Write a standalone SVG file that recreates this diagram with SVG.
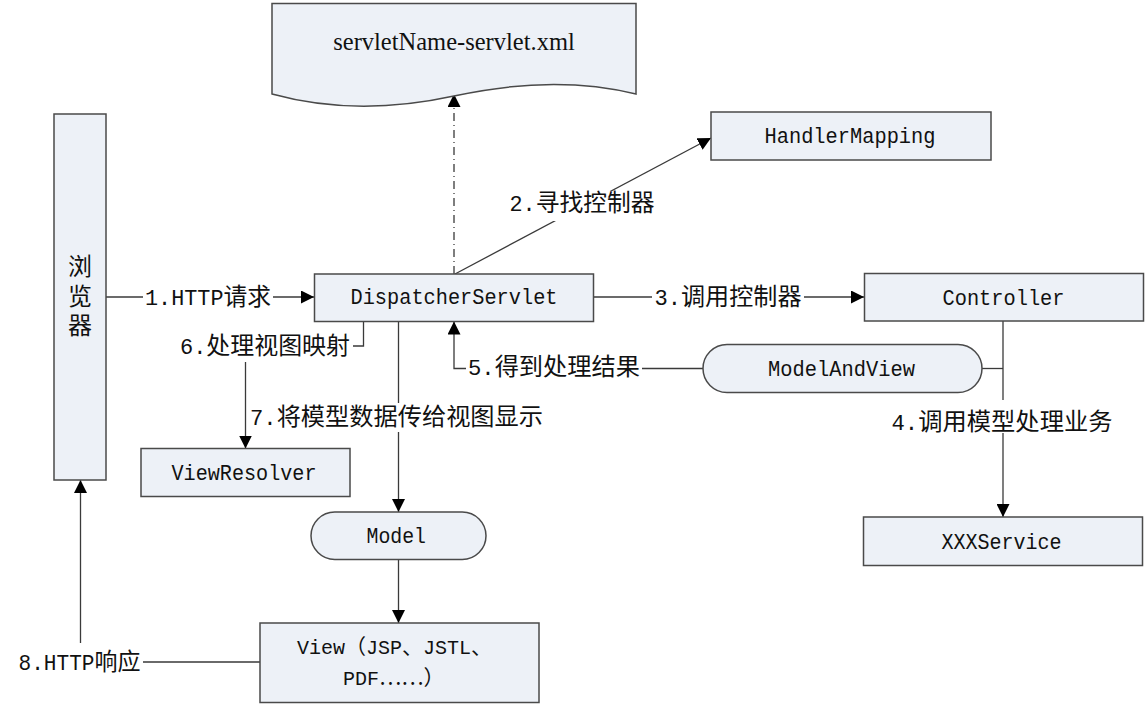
<svg xmlns="http://www.w3.org/2000/svg" width="1148" height="707" viewBox="0 0 1148 707">
<style>
.box{fill:#EDF1F7;stroke:#4a4a4a;stroke-width:1.5}
.ln{fill:none;stroke:#3a3a3a;stroke-width:1.3}
.dash{stroke-dasharray:8 4 1 4}
.bg{fill:#ffffff}
.t{font-family:"Liberation Mono","Noto Sans CJK SC",monospace;font-size:22px;fill:#111}
.c{font-family:"Noto Sans CJK SC","Liberation Mono",sans-serif;font-size:24px}
.serif{font-family:"Liberation Serif","Noto Sans CJK SC",serif;font-size:24.5px;fill:#111}
.vert{writing-mode:vertical-rl;letter-spacing:5.5px}
.vw{font-size:20px}
.vw .c{font-size:21px}
</style>
<defs>
<marker id="arr" viewBox="0 0 13 13" refX="13" refY="6.5" markerWidth="13" markerHeight="13" markerUnits="userSpaceOnUse" orient="auto">
<path d="M0,0 L13,6.5 L0,13 Z" fill="#000"/>
</marker>
</defs>
<rect width="1148" height="707" fill="#ffffff"/>

<g id="connectors">
<path class="ln" d="M106,297 H314" marker-end="url(#arr)"/>
<path class="ln" d="M455,274 L711,138" marker-end="url(#arr)"/>
<path class="ln" d="M594,297 H864" marker-end="url(#arr)"/>
<path class="ln" d="M1003,321 V517" marker-end="url(#arr)"/>
<path class="ln" d="M982,368.5 H1003"/>
<path class="ln" d="M703,368.5 H454 V321.5" marker-end="url(#arr)"/>
<path class="ln" d="M363.5,321.5 V346 H245.5 V448.5" marker-end="url(#arr)"/>
<path class="ln" d="M398.5,321.5 V512" marker-end="url(#arr)"/>
<path class="ln" d="M398.5,559.5 V623" marker-end="url(#arr)"/>
<path class="ln" d="M260,662 H80.5 V480" marker-end="url(#arr)"/>
<path class="ln dash" d="M454,274 V94" marker-end="url(#arr)"/>

<rect class="bg" x="143" y="284" width="130" height="26"/>
<rect class="bg" x="507" y="191" width="150" height="30"/>
<rect class="bg" x="652" y="284" width="152" height="26"/>
<rect class="bg" x="889" y="400" width="226" height="33"/>
<rect class="bg" x="466" y="355" width="176" height="26"/>
<rect class="bg" x="178" y="334" width="175" height="28"/>
<rect class="bg" x="248" y="403" width="297" height="29"/>
<rect class="bg" x="16" y="643" width="127" height="37"/>

<text class="t" x="145" y="305" textLength="126" lengthAdjust="spacingAndGlyphs">1.HTTP<tspan class="c">请求</tspan></text>
<text class="t" x="509.5" y="211" textLength="145" lengthAdjust="spacingAndGlyphs">2.<tspan class="c">寻找控制器</tspan></text>
<text class="t" x="654.5" y="305" textLength="147" lengthAdjust="spacingAndGlyphs">3.<tspan class="c">调用控制器</tspan></text>
<text class="t" x="891.5" y="430" textLength="221" lengthAdjust="spacingAndGlyphs">4.<tspan class="c">调用模型处理业务</tspan></text>
<text class="t" x="468" y="375" textLength="172" lengthAdjust="spacingAndGlyphs">5.<tspan class="c">得到处理结果</tspan></text>
<text class="t" x="180" y="354" textLength="170" lengthAdjust="spacingAndGlyphs">6.<tspan class="c">处理视图映射</tspan></text>
<text class="t" x="250" y="425" textLength="293" lengthAdjust="spacingAndGlyphs">7.<tspan class="c">将模型数据传给视图显示</tspan></text>
<text class="t" x="18.5" y="670" textLength="122" lengthAdjust="spacingAndGlyphs">8.HTTP<tspan class="c">响应</tspan></text>
</g>

<g id="config">
<path class="box" d="M272,3.5 H636 V94 C578,80 518,82 454,96 C390,110 330,110 272,94 Z"/>
<text class="serif" x="454" y="50" text-anchor="middle">servletName-servlet.xml</text>
</g>

<g id="browser">
<rect class="box" x="54" y="114" width="52" height="366"/>
<text class="t c vert" x="80" y="254">浏览器</text>
</g>

<g id="dispatcher">
<rect class="box" x="314.5" y="274" width="279" height="47.5"/>
<text class="t" x="350.5" y="304" textLength="207" lengthAdjust="spacingAndGlyphs">DispatcherServlet</text>
</g>

<g id="handlermapping">
<rect class="box" x="711" y="112" width="280" height="48"/>
<text class="t" x="764.5" y="143" textLength="171" lengthAdjust="spacingAndGlyphs">HandlerMapping</text>
</g>

<g id="controller">
<rect class="box" x="864.5" y="273.5" width="279" height="47.5"/>
<text class="t" x="942.5" y="305" textLength="122" lengthAdjust="spacingAndGlyphs">Controller</text>
</g>

<g id="modelandview">
<rect class="box" x="703" y="344.5" width="279" height="48" rx="24" ry="24"/>
<text class="t" x="768" y="376" textLength="147" lengthAdjust="spacingAndGlyphs">ModelAndView</text>
</g>

<g id="viewresolver">
<rect class="box" x="141" y="448.5" width="209" height="48"/>
<text class="t" x="171.5" y="480" textLength="145" lengthAdjust="spacingAndGlyphs">ViewResolver</text>
</g>

<g id="xxxservice">
<rect class="box" x="863.5" y="517" width="279" height="48.5"/>
<text class="t" x="941.5" y="549" textLength="120" lengthAdjust="spacingAndGlyphs">XXXService</text>
</g>

<g id="model">
<rect class="box" x="311" y="512" width="175" height="47.5" rx="23.75" ry="23.75"/>
<text class="t" x="366.5" y="543" textLength="59.5" lengthAdjust="spacingAndGlyphs">Model</text>
</g>

<g id="view">
<rect class="box" x="260" y="623" width="279" height="79.5"/>
<text class="t vw"><tspan x="297" y="654">View<tspan class="c">（</tspan>JSP<tspan class="c">、</tspan>JSTL<tspan class="c">、</tspan></tspan><tspan x="343" y="685">PDF<tspan class="c">……）</tspan></tspan></text>
</g>
</svg>
